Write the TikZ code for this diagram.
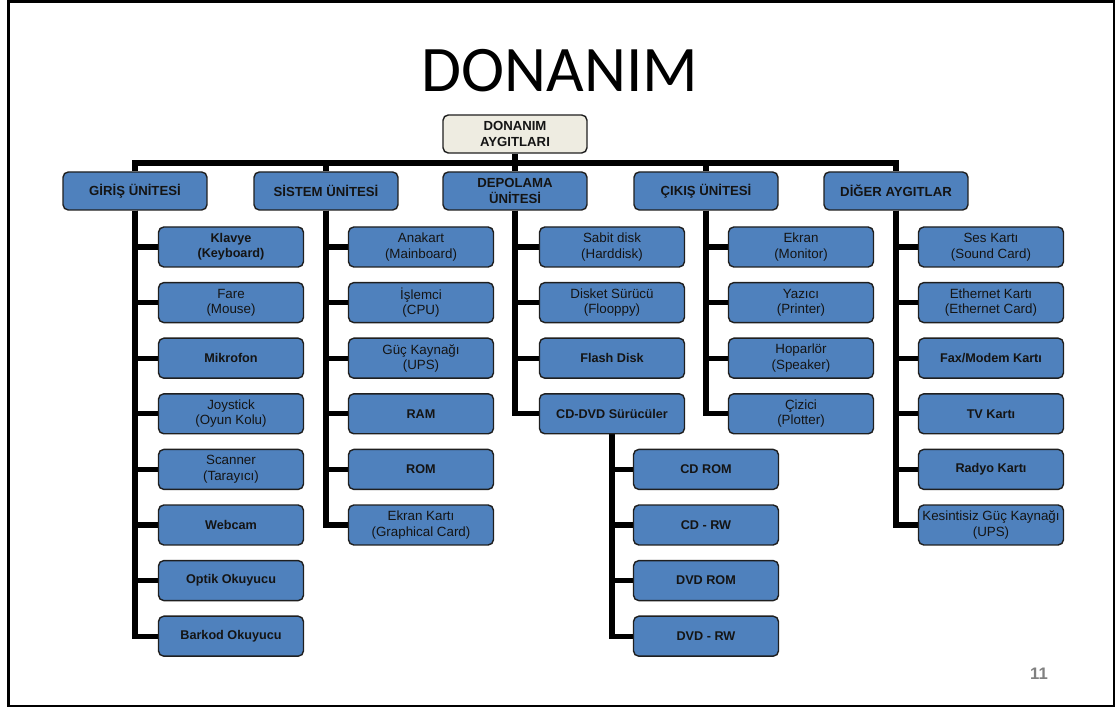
\documentclass[tikz,border=0pt]{standalone}
\usepackage{fontspec}
\setmainfont{Liberation Sans}
\newfontfamily\titlefont{Carlito}
\usetikzlibrary{backgrounds}
\definecolor{boxblue}{HTML}{4F81BD}
\definecolor{boxline}{HTML}{1F1F1F}
\definecolor{rootfill}{HTML}{EEECE1}
\definecolor{textdark}{HTML}{141414}
\begin{document}
\begin{tikzpicture}
		[x=0.02cm, y=-0.02cm,
		every node/.style={align=center, inner sep=1pt, text=textdark},
		rootbox/.style={draw=boxline, line width=0.8pt, fill=rootfill, rounded corners=3pt, minimum width=2.88cm, minimum height=0.76cm, font=\fontsize{7.5}{9}\selectfont\bfseries},
		unitbox/.style={rootbox, fill=boxblue},
		itembox/.style={unitbox, minimum width=2.9cm, minimum height=0.8cm, font=\fontsize{7.6}{8.8}\selectfont},
		strong/.style={font=\fontsize{7.2}{8.6}\selectfont\bfseries},
		conn/.style={line width=3pt}]
		\useasboundingbox (0,0) rectangle (1117,709);
		\draw[line width=1.2pt] (8.5,1.5) rectangle (1114,706);
		
		\node[font=\titlefont\fontsize{37}{40}\selectfont, text=black] (title) at (560,71) {DONANIM};
		\node[rootbox] (root) at (515,134) {DONANIM\\AYGITLARI};
		\coordinate (bus) at (515,163);
		
		\node[unitbox] (gir) at (135,191) {GİRİŞ ÜNİTESİ};
		\node[unitbox] (sis) at (326,191) {SİSTEM ÜNİTESİ};
		\node[unitbox] (dep) at (515,191) {DEPOLAMA\\ÜNİTESİ};
		\node[unitbox] (cik) at (706,191) {ÇIKIŞ ÜNİTESİ};
		\node[unitbox] (dig) at (896,191) {DİĞER AYGITLAR};
		
		% giris
		\node[itembox, strong] (g1) at (231,247) {Klavye\\(Keyboard)};
		\node[itembox] (g2) at (231,302.6) {Fare\\(Mouse)};
		\node[itembox, strong] (g3) at (231,358.2) {Mikrofon};
		\node[itembox] (g4) at (231,413.8) {Joystick\\(Oyun Kolu)};
		\node[itembox] (g5) at (231,469.4) {Scanner\\(Tarayıcı)};
		\node[itembox, strong] (g6) at (231,525) {Webcam};
		\node[itembox, strong] (g7) at (231,580.6) {Optik Okuyucu};
		\node[itembox, strong] (g8) at (231,636.2) {Barkod Okuyucu};
		
		% sistem
		\node[itembox] (s1) at (421,247) {Anakart\\(Mainboard)};
		\node[itembox] (s2) at (421,302.6) {İşlemci\\(CPU)};
		\node[itembox] (s3) at (421,358.2) {Güç Kaynağı\\(UPS)};
		\node[itembox, strong] (s4) at (421,413.8) {RAM};
		\node[itembox, strong] (s5) at (421,469.4) {ROM};
		\node[itembox] (s6) at (421,525) {Ekran Kartı\\(Graphical Card)};
		
		% depolama
		\node[itembox] (d1) at (612,247) {Sabit disk\\(Harddisk)};
		\node[itembox] (d2) at (612,302.6) {Disket Sürücü\\(Flooppy)};
		\node[itembox, strong] (d3) at (612,358.2) {Flash Disk};
		\node[itembox, strong] (d4) at (612,413.8) {CD-DVD Sürücüler};
		\node[itembox, strong] (e1) at (706,469.4) {CD ROM};
		\node[itembox, strong] (e2) at (706,525) {CD - RW};
		\node[itembox, strong] (e3) at (706,580.6) {DVD ROM};
		\node[itembox, strong] (e4) at (706,636.2) {DVD - RW};
		
		% cikis
		\node[itembox] (c1) at (801,247) {Ekran\\(Monitor)};
		\node[itembox] (c2) at (801,302.6) {Yazıcı\\(Printer)};
		\node[itembox] (c3) at (801,358.2) {Hoparlör\\(Speaker)};
		\node[itembox] (c4) at (801,413.8) {Çizici\\(Plotter)};
		
		% diger
		\node[itembox] (o1) at (991,247) {Ses Kartı\\(Sound Card)};
		\node[itembox] (o2) at (991,302.6) {Ethernet Kartı\\(Ethernet Card)};
		\node[itembox, strong] (o3) at (991,358.2) {Fax/Modem Kartı};
		\node[itembox, strong] (o4) at (991,413.8) {TV Kartı};
		\node[itembox, strong] (o5) at (991,469.4) {Radyo Kartı};
		\node[itembox] (o6) at (991,525) {Kesintisiz Güç Kaynağı\\(UPS)};
		
		\node[text=gray, font=\fontsize{9.5}{11}\selectfont\bfseries] (pageno) at (1039,674) {11};
		
		\begin{scope}[on background layer]
		\draw[conn] (root) -- (dep);
		\draw[conn] (gir) |- (bus) -| (dig);
		\draw[conn] (sis) -- (sis |- bus);
		\draw[conn] (cik) -- (cik |- bus);
		\foreach \c in {g1,g2,g3,g4,g5,g6,g7,g8} \draw[conn] (gir) |- (\c);
		\foreach \c in {s1,s2,s3,s4,s5,s6} \draw[conn] (sis) |- (\c);
		\foreach \c in {d1,d2,d3,d4} \draw[conn] (dep) |- (\c);
		\foreach \c in {e1,e2,e3,e4} \draw[conn] (d4) |- (\c);
		\foreach \c in {c1,c2,c3,c4} \draw[conn] (cik) |- (\c);
		\foreach \c in {o1,o2,o3,o4,o5,o6} \draw[conn] (dig) |- (\c);
		\end{scope}
\end{tikzpicture}
\end{document}
